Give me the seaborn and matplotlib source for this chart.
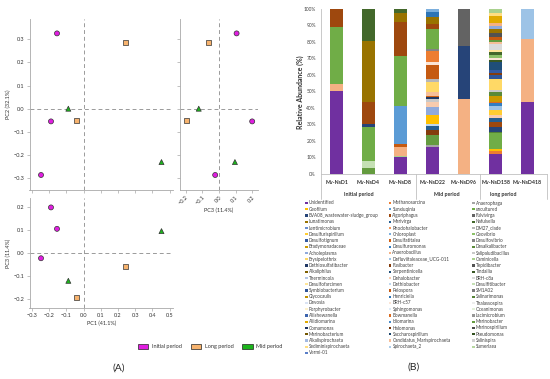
import matplotlib
matplotlib.use("Agg")
import matplotlib.pyplot as plt
import matplotlib.transforms as mtransforms
from matplotlib.patches import Rectangle
from matplotlib.ticker import FuncFormatter
import seaborn as sns
import pandas as pd

# ---- Panel A : PCA scores ----
pc1 = [-0.155, -0.19, -0.248, -0.089, 0.453, -0.043, 0.246]
pc2 = [0.326, -0.055, -0.287, 0.0, -0.231, -0.05, 0.287]
pc3 = [0.106, 0.2, -0.023, -0.122, 0.096, -0.197, -0.061]
period = ["Initial period"] * 3 + ["Mid period"] * 2 + ["Long period"] * 2
legend_periods = ["Initial period", "Long period", "Mid period"]

# ---- Panel B : relative abundance ----
samples = ["Mv-NsD1", "Mv-NsD4", "Mv-NsD8", "Mv-NsD22", "Mv-NsD96", "Mv-NsD158", "Mv-NsD418"]
groups = ["Initial period", "Mid period", "long period"]

# legend order (row by row, 3 columns)
taxa = [
    "Unidentified", "Methanosarcina", "Anaerophaga",
    "Geofilum", "Sunxiuqinia", "uncultured",
    "BVA08_wastewater-sludge_group", "Algoriphagus", "Fulvivirga",
    "Lunatimonas", "Marivirga", "Nafulsella",
    "Lentimicrobium", "Rhodohalobacter", "DM27_clade",
    "Desulfurispirillum", "Chloroplast", "Geovibrio",
    "Desulfotignum", "Desulfatitalea", "Desulfovibrio",
    "Bradymonadaceae", "Desulfuromonas", "Desalkalibacter",
    "Acholeplasma", "Anaerobacillus", "Salipaludibacillus",
    "Erysipelothrix", "Defluviitaleaceae_UCG-011", "Caminicella",
    "Dethiosulfatibacter", "Fusibacter", "Tepidibacter",
    "Alkaliphilus", "Serpentinicella", "Tindallia",
    "Thermincola", "Dehalobacter", "BRH-c8a",
    "Desulfofarcimen", "Dethiobacter", "Desulfitibacter",
    "Symbiobacterium", "Pelospora", "SM1A02",
    "Glycocaulis", "Henriciella", "Salinarimonas",
    "Devosia", "BRH-c57", "Thalassospira",
    "Porphyrobacter", "Sphingomonas", "Oceanimonas",
    "Aliishewanella", "Bowmanella", "Lacimicrobium",
    "Aliidiomarina", "Idiomarina", "Marinobacter",
    "Comamonas", "Halomonas", "Marinospirillum",
    "Marinobacterium", "Saccharospirillum", "Pseudomonas",
    "Alkalispirochaeta", "Candidatus_Marispirochaeta", "Salinispira",
    "Sediminispirochaeta", "Spirochaeta_2", "Sumerlaea",
    "Vermi-01",
]

# stacked from bottom to top, % per sample
nsd1 = {"Unidentified": 50.2, "Anaerobacillus": 4.5, "uncultured": 34.2, "Algoriphagus": 11.1}
nsd4 = {"Marinobacter": 3.2, "Desulfitibacter": 4.5, "uncultured": 20.8,
        "BVA08_wastewater-sludge_group": 1.5, "Algoriphagus": 13.5,
        "Lunatimonas": 37.3, "Nafulsella": 19.2}
nsd8 = {"Unidentified": 10.3, "Caminicella": 0.6, "Anaerobacillus": 5.5, "Pelospora": 1.4,
        "Sunxiuqinia": 23.3, "uncultured": 30.6, "Algoriphagus": 20.6,
        "Lunatimonas": 5.5, "Nafulsella": 2.2}
nsd22 = {"Unidentified": 16.4, "Anaerophaga": 1.0, "Marinobacter": 6.1, "Fusibacter": 3.0,
         "Marivirga": 2.6, "Dethiobacter": 1.1, "Geofilum": 5.4, "Acholeplasma": 5.1,
         "Dehalobacter": 3.0, "Salipaludibacillus": 1.4, "Dethiosulfatibacter": 1.3,
         "Desulfatitalea": 1.0, "Candidatus_Marispirochaeta": 2.0, "Erysipelothrix": 6.5,
         "DM27_clade": 1.6, "Pelospora": 8.5, "BRH-c57": 2.0, "Methanosarcina": 6.7,
         "Desulfovibrio": 1.0, "uncultured": 12.2, "Algoriphagus": 3.1,
         "Lunatimonas": 4.0, "Henriciella": 3.4, "Chloroplast": 1.6}
nsd96 = {"Anaerobacillus": 45.1, "BVA08_wastewater-sludge_group": 32.6, "Fulvivirga": 22.3}
nsd158 = {"Unidentified": 11.7, "Methanosarcina": 2.3, "Geofilum": 1.0, "uncultured": 9.5,
          "Salinarimonas": 0.6, "BVA08_wastewater-sludge_group": 3.4, "Algoriphagus": 3.1,
          "Marivirga": 2.0, "Dehalobacter": 2.0, "Desulfurispirillum": 3.1,
          "Defluviitaleaceae_UCG-011": 2.4, "Desulfuromonas": 1.6, "Bowmanella": 1.0,
          "Bradymonadaceae": 3.7, "Desalkalibacter": 2.0, "Salipaludibacillus": 1.4,
          "Erysipelothrix": 6.7, "Symbiobacterium": 2.4, "Fusibacter": 1.0,
          "Desulfotignum": 2.1, "Serpentinicella": 4.6, "Tindallia": 1.4, "BRH-c57": 1.4,
          "Geovibrio": 1.6, "Nafulsella": 1.7, "Desulfofarcimen": 1.4, "BRH-c8a": 3.4,
          "Candidatus_Marispirochaeta": 1.3, "Marinobacter": 1.4, "Pelospora": 2.0,
          "Tepidibacter": 2.0, "Lunatimonas": 2.7, "Acholeplasma": 2.0,
          "Anaerobacillus": 1.4, "Aliidiomarina": 4.5, "Sediminispirochaeta": 1.6,
          "Caminicella": 2.6}
nsd418 = {"Unidentified": 43.7, "Anaerobacillus": 37.9, "Defluviitaleaceae_UCG-011": 18.4}
sample_data = [nsd1, nsd4, nsd8, nsd22, nsd96, nsd158, nsd418]

# ---- colours (office-like series cycle) ----
shade_rows = [
    ["#4472C4", "#ED7D31", "#A5A5A5", "#FFC000", "#5B9BD5", "#70AD47"],
    ["#264478", "#9E480E", "#636363", "#997300", "#255E91", "#43682B"],
    ["#698ED0", "#F1975A", "#B7B7B7", "#FFCD33", "#7CAFDD", "#8CC168"],
    ["#335AA1", "#D26012", "#848484", "#CC9A00", "#327DC2", "#5A8A39"],
    ["#8FAADC", "#F4B183", "#C9C9C9", "#FFD966", "#9DC3E6", "#A9D18E"],
    ["#203864", "#843C0C", "#525252", "#7F6000", "#1F4E79", "#385723"],
    ["#B4C7E7", "#F8CBAD", "#DBDBDB", "#FFE699", "#BDD7EE", "#C5E0B4"],
    ["#2F5597", "#C55A11", "#7B7B7B", "#BF9000", "#2E75B6", "#548235"],
    ["#DAE3F3", "#FBE5D6", "#EDEDED", "#FFF2CC", "#DEEBF7", "#E2F0D9"],
    ["#3C64AE", "#DA6C22", "#969696", "#E0AA00", "#4A8BC8", "#649B3F"],
    ["#1C3362", "#773608", "#4A4A4A", "#735600", "#1B466D", "#32501F"],
    ["#A2B9E2", "#F6BE98", "#D2D2D2", "#FFDE80", "#ACCDEA", "#B6D7A0"],
    ["#5A7FC8", "#EE8A46", "#ACACAC", "#FFC61A", "#6CA6D8", "#7DB558"],
]
taxon_color = {t: shade_rows[i // 6][i % 6] for i, t in enumerate(taxa)}
taxon_color["Unidentified"] = "#7030A0"

period_colors = {"Initial period": "#E01EE0", "Long period": "#F7B36E", "Mid period": "#1CB51C"}
period_markers = {"Initial period": "o", "Long period": "s", "Mid period": "^"}

sns.set_style("ticks")
plt.rcParams["font.family"] = ["Lato", "DejaVu Sans"]

W, H = 550, 379
fig = plt.figure(figsize=(W / 100, H / 100), dpi=100)


def box(x0, y0, x1, y1):
    return [x0 / W, 1 - y1 / H, (x1 - x0) / W, (y1 - y0) / H]


# one decimal, with a visible minus sign
fmt1 = FuncFormatter(lambda v, pos: f"{v:.1f}".replace("-", "\u2212"))

df = pd.DataFrame({"PC1": pc1, "PC2": pc2, "PC3": pc3, "period": period})

ax12 = fig.add_axes(box(29.5, 19.3, 173, 190))
ax32 = fig.add_axes(box(180, 19.3, 258, 190))
ax13 = fig.add_axes(box(29.5, 198.3, 173, 307.7))

for ax, xc, yc in [(ax12, "PC1", "PC2"), (ax32, "PC3", "PC2"), (ax13, "PC1", "PC3")]:
    ax.axhline(0, color="#9A9A9A", lw=0.7, ls=(0, (4, 3)), zorder=0)
    ax.axvline(0, color="#9A9A9A", lw=0.7, ls=(0, (4, 3)), zorder=0)
    sns.scatterplot(data=df, x=xc, y=yc, hue="period", style="period",
                    palette=period_colors, markers=period_markers, s=13,
                    edgecolor="#333333", linewidth=0.5, legend=False, ax=ax, zorder=3)
    sns.despine(ax=ax)
    for side in ["left", "bottom"]:
        ax.spines[side].set_color("#A8A8A8")
        ax.spines[side].set_linewidth(0.6)
    ax.tick_params(length=2, width=0.5, color="#A8A8A8", labelsize=4,
                   labelcolor="#333333", pad=1.5)
    ax.set_xlabel("")
    ax.set_ylabel("")

ax12.set_xlim(-0.315, 0.52)
ax12.set_ylim(-0.352, 0.387)
ax12.set_xticks([-0.3, -0.2, -0.1, 0.0, 0.1, 0.2, 0.3, 0.4, 0.5])
ax12.set_xticklabels([])
ax12.set_yticks([-0.3, -0.2, -0.1, 0.0, 0.1, 0.2, 0.3])
ax12.yaxis.set_major_formatter(fmt1)
ax12.set_ylabel("PC2 (32.1%)", fontsize=4, color="#333333", labelpad=2)

ax32.set_xlim(-0.235, 0.235)
ax32.set_ylim(-0.352, 0.387)
ax32.set_yticks([-0.3, -0.2, -0.1, 0.0, 0.1, 0.2, 0.3])
ax32.set_yticklabels([])
ax32.set_xticks([-0.2, -0.1, 0.0, 0.1, 0.2])
ax32.xaxis.set_major_formatter(fmt1)
for lab in ax32.get_xticklabels():
    lab.set_rotation(45)
    lab.set_ha("right")
    lab.set_rotation_mode("anchor")
ax32.set_xlabel("PC3 (11.4%)", fontsize=4, color="#333333", labelpad=1.5)

ax13.set_xlim(-0.315, 0.52)
ax13.set_ylim(-0.24, 0.24)
ax13.set_xticks([-0.3, -0.2, -0.1, 0.0, 0.1, 0.2, 0.3, 0.4, 0.5])
ax13.set_yticks([-0.2, -0.1, 0.0, 0.1, 0.2])
ax13.xaxis.set_major_formatter(fmt1)
ax13.yaxis.set_major_formatter(fmt1)
ax13.set_xlabel("PC1 (41.1%)", fontsize=4, color="#333333", labelpad=2)
ax13.set_ylabel("PC3 (11.4%)", fontsize=4, color="#333333", labelpad=2)

# legend of panel A
for x0, name in zip([137.7, 190.7, 242.3], legend_periods):
    fig.patches.append(Rectangle((x0 / W, 1 - 348.5 / H), 10.5 / W, 4.5 / H,
                                 transform=fig.transFigure, facecolor=period_colors[name],
                                 edgecolor="#222222", linewidth=0.5))
    fig.text((x0 + 14) / W, 1 - 346.3 / H, name, fontsize=4, color="#333333",
             ha="left", va="center")
fig.text(119 / W, 1 - 368 / H, "(A)", fontsize=7.5, ha="center", va="center")

# ---- Panel B : stacked bars ----
axb = fig.add_axes(box(320.8, 9, 546.7, 173.7))
for j, d in enumerate(sample_data):
    bottom = 0.0
    for taxon, v in d.items():
        axb.bar(j, v, bottom=bottom, width=0.4, color=taxon_color[taxon], linewidth=0)
        bottom += v

axb.set_xlim(-0.5, 6.6)
axb.set_ylim(0, 100)
axb.set_yticks(range(0, 101, 10))
axb.set_yticklabels([f"{v}%" for v in range(0, 101, 10)])
axb.set_xticks(range(len(samples)))
axb.set_xticklabels(samples, fontweight="bold")
axb.tick_params(axis="y", length=0, pad=3.5, labelsize=3.5, labelcolor="#444444")
axb.tick_params(axis="x", length=0, pad=4.5, labelsize=3.8, labelcolor="#333333")
for side in ["top", "right"]:
    axb.spines[side].set_visible(False)
for side in ["left", "bottom"]:
    axb.spines[side].set_color("#C0C0C0")
    axb.spines[side].set_linewidth(0.6)

trans = mtransforms.blended_transform_factory(axb.transData, axb.transAxes)
for xe in [-0.5, 2.5, 4.5, 6.6]:
    axb.plot([xe, xe], [0, -0.155], transform=trans, color="#C0C0C0", lw=0.6, clip_on=False)
for xg, name in zip([0.7, 3.45, 5.22], groups):
    axb.text(xg, -0.129, name, transform=trans, ha="center", va="center",
             fontsize=3.8, fontweight="bold", color="#333333")

fig.text(300 / W, 1 - 92 / H, "Relative Abundance (%)", rotation=90, fontsize=5,
         fontweight="bold", ha="center", va="center", color="#333333")

# legend of panel B, three columns, row by row
col_x = [305.2, 388.8, 472.2]
for i, t in enumerate(taxa):
    r, c = divmod(i, 3)
    yc = 203 + r * 6.25
    fig.patches.append(Rectangle((col_x[c] / W, 1 - (yc + 1.2) / H), 2.4 / W, 2.4 / H,
                                 transform=fig.transFigure, facecolor=taxon_color[t],
                                 linewidth=0))
    fig.text((col_x[c] + 3.6) / W, 1 - yc / H, t, fontsize=3.3, color="#404040",
             ha="left", va="center")

fig.text(414 / W, 1 - 367 / H, "(B)", fontsize=7.5, ha="center", va="center")

fig.savefig("out.png", dpi=100)
